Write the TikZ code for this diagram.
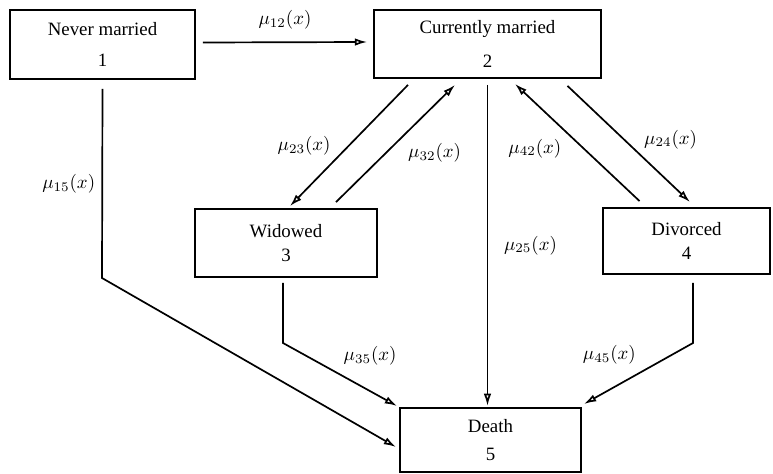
\documentclass[tikz,border=0pt]{standalone}
\usepackage{amsmath}
\usepackage{fontspec}
\setmainfont{Liberation Serif}
\usepackage{tikz}
\usetikzlibrary{shapes,arrows,arrows.meta,calc}
\tikzstyle{block} = [rectangle, draw, line width=1pt, align=center, inner sep=2pt]
\tikzstyle{line} = [draw, line width=0.9pt, -{Latex[open,length=6.5pt,width=4pt]}]

\begin{document}
\begin{tikzpicture}[x=0.53pt,y=-0.53pt]
\useasboundingbox (0,0) rectangle (773,474);

\node [block, minimum width=98pt, minimum height=36.6pt] (s1) at (102.5,44.5) {Never married\\[4pt]1};
\node [block, minimum width=120.3pt, minimum height=36pt] (s2) at (487.5,44) {Currently married\\[6pt]2};
\node [block, minimum width=96.5pt, minimum height=36pt] (s3) at (286,243) {Widowed\\[1pt]3};
\node [block, minimum width=88.5pt, minimum height=35pt] (s4) at (686.5,241) {Divorced\\[1pt]4};
\node [block, minimum width=96pt, minimum height=34pt] (s5) at (490.5,440) {Death\\[3pt]5};

\path [line] ($(s1.east)+(7,-2)$) -- node[above=3pt] {$\mu_{12}(x)$} ($(s2.west)+(-6,-2)$);

\path [line] ($(s2.south)+(-79.5,6)$) -- node[midway, left=6pt] {$\mu_{23}(x)$} ($(s3.north)+(4,-2)$);
\path [line] ($(s3.north)+(50,-6)$) -- node[pos=0.42, right=8pt] {$\mu_{32}(x)$} ($(s2.south)+(-32.5,6)$);
\path [line] ($(s4.north)+(-47,-6)$) -- node[pos=0.45, left=8pt] {$\mu_{42}(x)$} ($(s2.south)+(27.5,5)$);
\path [line] ($(s2.south)+(80,7)$) -- node[pos=0.46, right=7pt] {$\mu_{24}(x)$} ($(s4.north)+(3.5,-5)$);

\path [line] ($(s2.south)+(0,6)$) -- node[midway, right=5pt] {$\mu_{25}(x)$} ($(s2.south |- s5.north)+(0,-1)$);

\coordinate (c15) at (102,278);
\path [line] ($(s1.south)+(0,9)$) -- node[left] {$\mu_{15}(x)$} (c15) -- ($(s5.west)+(-3,7)$);

\coordinate (c35) at (283,343);
\path [line] ($(s3.south)+(-3,5)$) -- (c35) -- node[pos=0.47, above right] {$\mu_{35}(x)$} ($(s5.north west)+(-2,-1)$);

\coordinate (c45) at (693,343);
\path [line] ($(s4.south)+(6.5,8)$) -- (c45) -- node[pos=0.46, above left] {$\mu_{45}(x)$} ($(s5.north east)+(2,-3)$);
\end{tikzpicture}
\end{document}
